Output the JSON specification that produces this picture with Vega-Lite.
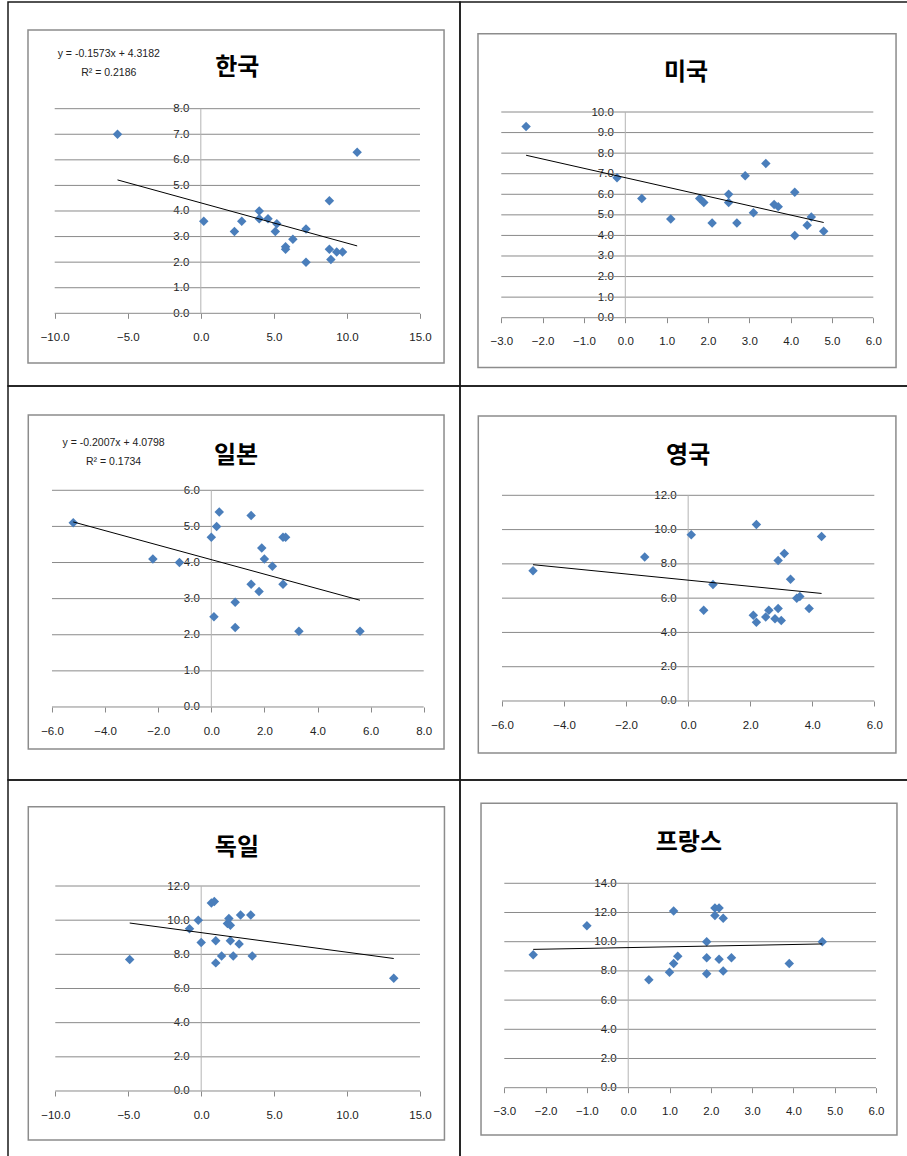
{
  "$schema": "https://vega.github.io/schema/vega-lite/v6.json",
  "background": "white",
  "padding": {"left": 7, "top": 1, "right": 0, "bottom": 0},
  "columns": 2,
  "spacing": 0,
  "bounds": "flush",
  "align": "each",
  "config": {
    "view": {"stroke": "#1a1a1a", "strokeWidth": 1.5},
    "axis": {"domain": false, "grid": false, "zindex": 1, "tickCount": 30, "labelFont": "Liberation Sans, Arial, sans-serif", "labelFontSize": 11.5, "labelColor": "#222222", "labelOverlap": false, "labelFlush": false},
    "axisX": {"ticks": true, "tickSize": 5, "tickColor": "#8a8a8a", "labelBaseline": "middle", "labelPadding": 19},
    "axisY": {"ticks": false, "tickSize": 0, "labelPadding": 12}
  },
  "concat": [
    {
      "width": 452, "height": 384,
      "data": {"values": [
        {"x": -5.7, "y": 7.0}, {"x": 10.7, "y": 6.3}, {"x": 8.8, "y": 4.4}, {"x": 0.2, "y": 3.6},
        {"x": 2.3, "y": 3.2}, {"x": 2.8, "y": 3.6}, {"x": 4.0, "y": 4.0}, {"x": 4.0, "y": 3.7},
        {"x": 4.6, "y": 3.7}, {"x": 5.2, "y": 3.5}, {"x": 5.1, "y": 3.2}, {"x": 5.8, "y": 2.6},
        {"x": 5.8, "y": 2.5}, {"x": 6.3, "y": 2.9}, {"x": 7.2, "y": 3.3}, {"x": 7.2, "y": 2.0},
        {"x": 8.8, "y": 2.5}, {"x": 8.9, "y": 2.1}, {"x": 9.3, "y": 2.4}, {"x": 9.7, "y": 2.4}
      ]},
      "layer": [
        {"data": {"values": [{}]}, "mark": {"type": "rect", "fill": "transparent", "stroke": "#8c8c8c", "strokeWidth": 1.5},
         "encoding": {"x": {"datum": -11.828, "type": "quantitative"}, "x2": {"datum": 16.646}, "y": {"datum": 11.075, "type": "quantitative"}, "y2": {"datum": -1.943}}},
        {"data": {"values": [{"g": 0}, {"g": 1}, {"g": 2}, {"g": 3}, {"g": 4}, {"g": 5}, {"g": 6}, {"g": 7}, {"g": 8}]},
         "mark": {"type": "rule", "color": "#8a8a8a", "strokeWidth": 1},
         "encoding": {"y": {"field": "g", "type": "quantitative"}, "x": {"datum": -10, "type": "quantitative"}, "x2": {"datum": 15}}},
        {"data": {"values": [{}]}, "mark": {"type": "rule", "color": "#b4b4b4", "strokeWidth": 1},
         "encoding": {"x": {"datum": 0, "type": "quantitative"}, "y": {"datum": 0, "type": "quantitative"}, "y2": {"datum": 8}}},
        {"mark": {"type": "point", "shape": "diamond", "filled": true, "size": 90, "color": "#4a7ebb", "opacity": 1},
         "encoding": {
           "x": {"field": "x", "type": "quantitative", "scale": {"domain": [-13.196, 17.738], "nice": false, "zero": false}, "axis": {"orient": "bottom", "offset": -72.7, "values": [-10, -5, 0, 5, 10, 15], "tickCount": 30, "format": ".1f", "title": null, "grid": false, "domain": false, "ticks": true, "labels": true, "labelOverlap": false}},
           "y": {"field": "y", "type": "quantitative", "scale": {"domain": [-2.842, 12.171], "nice": false, "zero": false}, "axis": {"orient": "left", "offset": -192.8, "values": [0, 1, 2, 3, 4, 5, 6, 7, 8], "tickCount": 30, "format": ".1f", "title": null, "grid": false, "domain": false, "ticks": false, "labels": true, "labelOverlap": false}}}},
        {"transform": [{"regression": "y", "on": "x"}], "mark": {"type": "line", "color": "black", "strokeWidth": 1},
         "encoding": {"x": {"field": "x", "type": "quantitative"}, "y": {"field": "y", "type": "quantitative"}}},
        {"data": {"values": [{}]}, "mark": {"type": "text", "font": "Noto Sans CJK KR", "fontWeight": "bold", "fontSize": 24, "color": "black", "align": "center", "baseline": "middle"},
         "encoding": {"x": {"datum": 2.5, "type": "quantitative"}, "y": {"datum": 9.59, "type": "quantitative"}, "text": {"value": "한국"}}},
        {"data": {"values": [{}]}, "mark": {"type": "text", "font": "Liberation Sans, Arial, sans-serif", "fontSize": 10.5, "lineHeight": 19, "color": "#222222", "align": "center", "baseline": "middle"},
         "encoding": {"x": {"datum": -6.3, "type": "quantitative"}, "y": {"datum": 10.14, "type": "quantitative"}, "text": {"value": ["y = -0.1573x + 4.3182", "R² = 0.2186"]}}}
      ]
    },
    {
      "width": 452, "height": 384,
      "data": {"values": [
        {"x": -2.4, "y": 9.3}, {"x": -0.2, "y": 6.8}, {"x": 0.4, "y": 5.8}, {"x": 1.1, "y": 4.8},
        {"x": 1.8, "y": 5.8}, {"x": 1.9, "y": 5.6}, {"x": 2.1, "y": 4.6}, {"x": 2.5, "y": 6.0},
        {"x": 2.5, "y": 5.6}, {"x": 2.7, "y": 4.6}, {"x": 2.9, "y": 6.9}, {"x": 3.1, "y": 5.1},
        {"x": 3.4, "y": 7.5}, {"x": 3.6, "y": 5.5}, {"x": 3.7, "y": 5.4}, {"x": 4.1, "y": 6.1},
        {"x": 4.1, "y": 4.0}, {"x": 4.4, "y": 4.5}, {"x": 4.5, "y": 4.9}, {"x": 4.8, "y": 4.2}
      ]},
      "layer": [
        {"data": {"values": [{}]}, "mark": {"type": "rect", "fill": "transparent", "stroke": "#8c8c8c", "strokeWidth": 1.5},
         "encoding": {"x": {"datum": -3.564, "type": "quantitative"}, "x2": {"datum": 6.55}, "y": {"datum": 13.807, "type": "quantitative"}, "y2": {"datum": -2.421}}},
        {"data": {"values": [{"g": 0}, {"g": 1}, {"g": 2}, {"g": 3}, {"g": 4}, {"g": 5}, {"g": 6}, {"g": 7}, {"g": 8}, {"g": 9}, {"g": 10}]},
         "mark": {"type": "rule", "color": "#8a8a8a", "strokeWidth": 1},
         "encoding": {"y": {"field": "g", "type": "quantitative"}, "x": {"datum": -3, "type": "quantitative"}, "x2": {"datum": 6}}},
        {"data": {"values": [{}]}, "mark": {"type": "rule", "color": "#b4b4b4", "strokeWidth": 1},
         "encoding": {"x": {"datum": 0, "type": "quantitative"}, "y": {"datum": 0, "type": "quantitative"}, "y2": {"datum": 10}}},
        {"mark": {"type": "point", "shape": "diamond", "filled": true, "size": 90, "color": "#4a7ebb", "opacity": 1},
         "encoding": {
           "x": {"field": "x", "type": "quantitative", "scale": {"domain": [-3.999, 6.936], "nice": false, "zero": false}, "axis": {"orient": "bottom", "offset": -68.3, "values": [-3, -2, -1, 0, 1, 2, 3, 4, 5, 6], "tickCount": 30, "format": ".1f", "title": null, "grid": false, "domain": false, "ticks": true, "labels": true, "labelOverlap": false}},
           "y": {"field": "y", "type": "quantitative", "scale": {"domain": [-3.32, 15.348], "nice": false, "zero": false}, "axis": {"orient": "left", "offset": -165.3, "values": [0, 1, 2, 3, 4, 5, 6, 7, 8, 9, 10], "tickCount": 30, "format": ".1f", "title": null, "grid": false, "domain": false, "ticks": false, "labels": true, "labelOverlap": false}}}},
        {"transform": [{"regression": "y", "on": "x"}], "mark": {"type": "line", "color": "black", "strokeWidth": 1},
         "encoding": {"x": {"field": "x", "type": "quantitative"}, "y": {"field": "y", "type": "quantitative"}}},
        {"data": {"values": [{}]}, "mark": {"type": "text", "font": "Noto Sans CJK KR", "fontWeight": "bold", "fontSize": 24, "color": "black", "align": "center", "baseline": "middle"},
         "encoding": {"x": {"datum": 1.47, "type": "quantitative"}, "y": {"datum": 11.91, "type": "quantitative"}, "text": {"value": "미국"}}}
      ]
    },
    {
      "width": 452, "height": 394,
      "data": {"values": [
        {"x": -5.2, "y": 5.1}, {"x": -2.2, "y": 4.1}, {"x": -1.2, "y": 4.0}, {"x": 0.0, "y": 4.7},
        {"x": 0.2, "y": 5.0}, {"x": 0.3, "y": 5.4}, {"x": 0.1, "y": 2.5}, {"x": 0.9, "y": 2.9},
        {"x": 0.9, "y": 2.2}, {"x": 1.5, "y": 5.3}, {"x": 1.5, "y": 3.4}, {"x": 1.8, "y": 3.2},
        {"x": 1.9, "y": 4.4}, {"x": 2.0, "y": 4.1}, {"x": 2.3, "y": 3.9}, {"x": 2.7, "y": 4.7},
        {"x": 2.8, "y": 4.7}, {"x": 2.7, "y": 3.4}, {"x": 3.3, "y": 2.1}, {"x": 5.6, "y": 2.1}
      ]},
      "layer": [
        {"data": {"values": [{}]}, "mark": {"type": "rect", "fill": "transparent", "stroke": "#8c8c8c", "strokeWidth": 1.5},
         "encoding": {"x": {"datum": -6.893, "type": "quantitative"}, "x2": {"datum": 8.765}, "y": {"datum": 8.086, "type": "quantitative"}, "y2": {"datum": -1.163}}},
        {"data": {"values": [{"g": 0}, {"g": 1}, {"g": 2}, {"g": 3}, {"g": 4}, {"g": 5}, {"g": 6}]},
         "mark": {"type": "rule", "color": "#8a8a8a", "strokeWidth": 1},
         "encoding": {"y": {"field": "g", "type": "quantitative"}, "x": {"datum": -6, "type": "quantitative"}, "x2": {"datum": 8}}},
        {"data": {"values": [{}]}, "mark": {"type": "rule", "color": "#b4b4b4", "strokeWidth": 1},
         "encoding": {"x": {"datum": 0, "type": "quantitative"}, "y": {"datum": 0, "type": "quantitative"}, "y2": {"datum": 6}}},
        {"mark": {"type": "point", "shape": "diamond", "filled": true, "size": 90, "color": "#4a7ebb", "opacity": 1},
         "encoding": {
           "x": {"field": "x", "type": "quantitative", "scale": {"domain": [-7.657, 9.367], "nice": false, "zero": false}, "axis": {"orient": "bottom", "offset": -73, "values": [-6, -4, -2, 0, 2, 4, 6, 8], "tickCount": 30, "format": ".1f", "title": null, "grid": false, "domain": false, "ticks": true, "labels": true, "labelOverlap": false}},
           "y": {"field": "y", "type": "quantitative", "scale": {"domain": [-2.022, 8.888], "nice": false, "zero": false}, "axis": {"orient": "left", "offset": -203.3, "values": [0, 1, 2, 3, 4, 5, 6], "tickCount": 30, "format": ".1f", "title": null, "grid": false, "domain": false, "ticks": false, "labels": true, "labelOverlap": false}}}},
        {"transform": [{"regression": "y", "on": "x"}], "mark": {"type": "line", "color": "black", "strokeWidth": 1},
         "encoding": {"x": {"field": "x", "type": "quantitative"}, "y": {"field": "y", "type": "quantitative"}}},
        {"data": {"values": [{}]}, "mark": {"type": "text", "font": "Noto Sans CJK KR", "fontWeight": "bold", "fontSize": 24, "color": "black", "align": "center", "baseline": "middle"},
         "encoding": {"x": {"datum": 0.93, "type": "quantitative"}, "y": {"datum": 6.95, "type": "quantitative"}, "text": {"value": "일본"}}},
        {"data": {"values": [{}]}, "mark": {"type": "text", "font": "Liberation Sans, Arial, sans-serif", "fontSize": 10.5, "lineHeight": 19, "color": "#222222", "align": "center", "baseline": "middle"},
         "encoding": {"x": {"datum": -3.68, "type": "quantitative"}, "y": {"datum": 7.32, "type": "quantitative"}, "text": {"value": ["y = -0.2007x + 4.0798", "R² = 0.1734"]}}}
      ]
    },
    {
      "width": 452, "height": 394,
      "data": {"values": [
        {"x": -5.0, "y": 7.6}, {"x": -1.4, "y": 8.4}, {"x": 0.1, "y": 9.7}, {"x": 0.5, "y": 5.3},
        {"x": 0.8, "y": 6.8}, {"x": 2.1, "y": 5.0}, {"x": 2.2, "y": 4.6}, {"x": 2.2, "y": 10.3},
        {"x": 2.5, "y": 4.9}, {"x": 2.6, "y": 5.3}, {"x": 2.8, "y": 4.8}, {"x": 2.9, "y": 5.4},
        {"x": 2.9, "y": 8.2}, {"x": 3.0, "y": 4.7}, {"x": 3.1, "y": 8.6}, {"x": 3.3, "y": 7.1},
        {"x": 3.5, "y": 6.0}, {"x": 3.6, "y": 6.1}, {"x": 3.9, "y": 5.4}, {"x": 4.3, "y": 9.6}
      ]},
      "layer": [
        {"data": {"values": [{}]}, "mark": {"type": "rect", "fill": "transparent", "stroke": "#8c8c8c", "strokeWidth": 1.5},
         "encoding": {"x": {"datum": -6.764, "type": "quantitative"}, "x2": {"datum": 6.697}, "y": {"datum": 16.628, "type": "quantitative"}, "y2": {"datum": -3.034}}},
        {"data": {"values": [{"g": 0}, {"g": 2}, {"g": 4}, {"g": 6}, {"g": 8}, {"g": 10}, {"g": 12}]},
         "mark": {"type": "rule", "color": "#8a8a8a", "strokeWidth": 1},
         "encoding": {"y": {"field": "g", "type": "quantitative"}, "x": {"datum": -6, "type": "quantitative"}, "x2": {"datum": 6}}},
        {"data": {"values": [{}]}, "mark": {"type": "rule", "color": "#b4b4b4", "strokeWidth": 1},
         "encoding": {"x": {"datum": 0, "type": "quantitative"}, "y": {"datum": 0, "type": "quantitative"}, "y2": {"datum": 12}}},
        {"mark": {"type": "point", "shape": "diamond", "filled": true, "size": 90, "color": "#4a7ebb", "opacity": 1},
         "encoding": {
           "x": {"field": "x", "type": "quantitative", "scale": {"domain": [-7.354, 7.215], "nice": false, "zero": false}, "axis": {"orient": "bottom", "offset": -79, "values": [-6, -4, -2, 0, 2, 4, 6], "tickCount": 30, "format": ".1f", "title": null, "grid": false, "domain": false, "ticks": true, "labels": true, "labelOverlap": false}},
           "y": {"field": "y", "type": "quantitative", "scale": {"domain": [-4.609, 18.377], "nice": false, "zero": false}, "axis": {"orient": "left", "offset": -228.2, "values": [0, 2, 4, 6, 8, 10, 12], "tickCount": 30, "format": ".1f", "title": null, "grid": false, "domain": false, "ticks": false, "labels": true, "labelOverlap": false}}}},
        {"transform": [{"regression": "y", "on": "x"}], "mark": {"type": "line", "color": "black", "strokeWidth": 1},
         "encoding": {"x": {"field": "x", "type": "quantitative"}, "y": {"field": "y", "type": "quantitative"}}},
        {"data": {"values": [{}]}, "mark": {"type": "text", "font": "Noto Sans CJK KR", "fontWeight": "bold", "fontSize": 24, "color": "black", "align": "center", "baseline": "middle"},
         "encoding": {"x": {"datum": 0, "type": "quantitative"}, "y": {"datum": 14.29, "type": "quantitative"}, "text": {"value": "영국"}}}
      ]
    },
    {
      "width": 452, "height": 394,
      "data": {"values": [
        {"x": -4.9, "y": 7.7}, {"x": -0.8, "y": 9.5}, {"x": -0.2, "y": 10.0}, {"x": 0.0, "y": 8.7},
        {"x": 0.7, "y": 11.0}, {"x": 0.9, "y": 11.1}, {"x": 1.0, "y": 8.8}, {"x": 1.0, "y": 7.5},
        {"x": 1.4, "y": 7.9}, {"x": 1.8, "y": 9.8}, {"x": 1.9, "y": 10.1}, {"x": 2.0, "y": 9.7},
        {"x": 2.0, "y": 8.8}, {"x": 2.2, "y": 7.9}, {"x": 2.6, "y": 8.6}, {"x": 2.7, "y": 10.3},
        {"x": 3.4, "y": 10.3}, {"x": 3.5, "y": 7.9}, {"x": 13.2, "y": 6.6}
      ]},
      "layer": [
        {"data": {"values": [{}]}, "mark": {"type": "rect", "fill": "transparent", "stroke": "#8c8c8c", "strokeWidth": 1.5},
         "encoding": {"x": {"datum": -11.851, "type": "quantitative"}, "x2": {"datum": 16.676}, "y": {"datum": 16.645, "type": "quantitative"}, "y2": {"datum": -2.869}}},
        {"data": {"values": [{"g": 0}, {"g": 2}, {"g": 4}, {"g": 6}, {"g": 8}, {"g": 10}, {"g": 12}]},
         "mark": {"type": "rule", "color": "#8a8a8a", "strokeWidth": 1},
         "encoding": {"y": {"field": "g", "type": "quantitative"}, "x": {"datum": -10, "type": "quantitative"}, "x2": {"datum": 15}}},
        {"data": {"values": [{}]}, "mark": {"type": "rule", "color": "#b4b4b4", "strokeWidth": 1},
         "encoding": {"x": {"datum": 0, "type": "quantitative"}, "y": {"datum": 0, "type": "quantitative"}, "y2": {"datum": 12}}},
        {"mark": {"type": "point", "shape": "diamond", "filled": true, "size": 90, "color": "#4a7ebb", "opacity": 1},
         "encoding": {
           "x": {"field": "x", "type": "quantitative", "scale": {"domain": [-13.242, 17.742], "nice": false, "zero": false}, "axis": {"orient": "bottom", "offset": -83, "values": [-10, -5, 0, 5, 10, 15], "tickCount": 30, "format": ".1f", "title": null, "grid": false, "domain": false, "ticks": true, "labels": true, "labelOverlap": false}},
           "y": {"field": "y", "type": "quantitative", "scale": {"domain": [-4.859, 18.206], "nice": false, "zero": false}, "axis": {"orient": "left", "offset": -193.2, "values": [0, 2, 4, 6, 8, 10, 12], "tickCount": 30, "format": ".1f", "title": null, "grid": false, "domain": false, "ticks": false, "labels": true, "labelOverlap": false}}}},
        {"transform": [{"regression": "y", "on": "x"}], "mark": {"type": "line", "color": "black", "strokeWidth": 1},
         "encoding": {"x": {"field": "x", "type": "quantitative"}, "y": {"field": "y", "type": "quantitative"}}},
        {"data": {"values": [{}]}, "mark": {"type": "text", "font": "Noto Sans CJK KR", "fontWeight": "bold", "fontSize": 24, "color": "black", "align": "center", "baseline": "middle"},
         "encoding": {"x": {"datum": 2.45, "type": "quantitative"}, "y": {"datum": 14.24, "type": "quantitative"}, "text": {"value": "독일"}}}
      ]
    },
    {
      "width": 452, "height": 394,
      "data": {"values": [
        {"x": -2.3, "y": 9.1}, {"x": -1.0, "y": 11.1}, {"x": 0.5, "y": 7.4}, {"x": 1.0, "y": 7.9},
        {"x": 1.1, "y": 8.5}, {"x": 1.1, "y": 12.1}, {"x": 1.2, "y": 9.0}, {"x": 1.9, "y": 10.0},
        {"x": 1.9, "y": 8.9}, {"x": 1.9, "y": 7.8}, {"x": 2.1, "y": 12.3}, {"x": 2.1, "y": 11.8},
        {"x": 2.2, "y": 12.3}, {"x": 2.2, "y": 8.8}, {"x": 2.3, "y": 11.6}, {"x": 2.3, "y": 8.0},
        {"x": 2.5, "y": 8.9}, {"x": 3.9, "y": 8.5}, {"x": 4.7, "y": 10.0}
      ]},
      "layer": [
        {"data": {"values": [{}]}, "mark": {"type": "rect", "fill": "transparent", "stroke": "#8c8c8c", "strokeWidth": 1.5},
         "encoding": {"x": {"datum": -3.564, "type": "quantitative"}, "x2": {"datum": 6.508}, "y": {"datum": 19.479, "type": "quantitative"}, "y2": {"datum": -3.24}}},
        {"data": {"values": [{"g": 0}, {"g": 2}, {"g": 4}, {"g": 6}, {"g": 8}, {"g": 10}, {"g": 12}, {"g": 14}]},
         "mark": {"type": "rule", "color": "#8a8a8a", "strokeWidth": 1},
         "encoding": {"y": {"field": "g", "type": "quantitative"}, "x": {"datum": -3, "type": "quantitative"}, "x2": {"datum": 6}}},
        {"data": {"values": [{}]}, "mark": {"type": "rule", "color": "#b4b4b4", "strokeWidth": 1},
         "encoding": {"x": {"datum": 0, "type": "quantitative"}, "y": {"datum": 0, "type": "quantitative"}, "y2": {"datum": 14}}},
        {"mark": {"type": "point", "shape": "diamond", "filled": true, "size": 90, "color": "#4a7ebb", "opacity": 1},
         "encoding": {
           "x": {"field": "x", "type": "quantitative", "scale": {"domain": [-4.073, 6.872], "nice": false, "zero": false}, "axis": {"orient": "bottom", "offset": -86.3, "values": [-3, -2, -1, 0, 1, 2, 3, 4, 5, 6], "tickCount": 30, "format": ".1f", "title": null, "grid": false, "domain": false, "ticks": true, "labels": true, "labelOverlap": false}},
           "y": {"field": "y", "type": "quantitative", "scale": {"domain": [-5.911, 21.075], "nice": false, "zero": false}, "axis": {"orient": "left", "offset": -168.2, "values": [0, 2, 4, 6, 8, 10, 12, 14], "tickCount": 30, "format": ".1f", "title": null, "grid": false, "domain": false, "ticks": false, "labels": true, "labelOverlap": false}}}},
        {"transform": [{"regression": "y", "on": "x"}], "mark": {"type": "line", "color": "black", "strokeWidth": 1},
         "encoding": {"x": {"field": "x", "type": "quantitative"}, "y": {"field": "y", "type": "quantitative"}}},
        {"data": {"values": [{}]}, "mark": {"type": "text", "font": "Noto Sans CJK KR", "fontWeight": "bold", "fontSize": 24, "color": "black", "align": "center", "baseline": "middle"},
         "encoding": {"x": {"datum": 1.47, "type": "quantitative"}, "y": {"datum": 16.78, "type": "quantitative"}, "text": {"value": "프랑스"}}}
      ]
    }
  ]
}
